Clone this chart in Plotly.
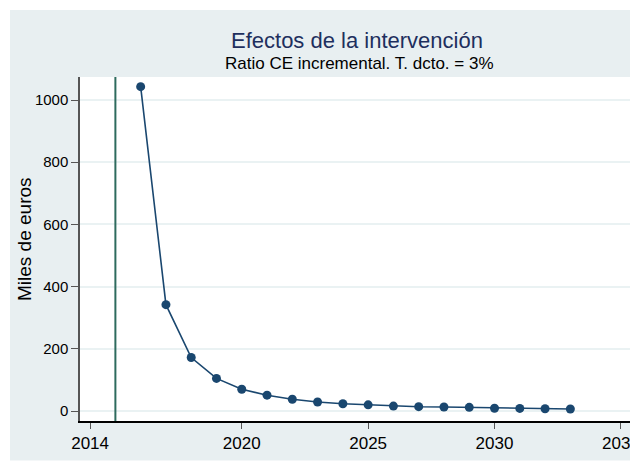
import plotly.graph_objects as go

years = list(range(2016, 2034))
ratio = [1043, 342, 172, 105, 70, 51, 38, 29, 23.5, 20, 16, 14, 13, 12, 9, 8.5, 7.5, 6.5]
intervention_year = 2015
x_tickvals = [2014, 2020, 2025, 2030, 2035]
y_tickvals = [0, 200, 400, 600, 800, 1000]

title = "Efectos de la intervención"
subtitle = "Ratio CE incremental. T. dcto. = 3%"
ytitle = "Miles de euros"

W, H = 630, 462
L, R, T, B = 80, 0, 77, 41
pw, ph = W - L - R, H - T - B

def px_x(p):
    return (p - L) / pw

def px_y(p):
    return (H - B - p) / ph

bg = "#e8eff1"
font = "Liberation Sans, Arial, sans-serif"

fig = go.Figure()
fig.add_trace(go.Scatter(
    x=years, y=ratio, mode="lines+markers",
    line=dict(color="#1a476f", width=1.6),
    marker=dict(color="#1a476f", size=9),
    showlegend=False, hoverinfo="x+y", cliponaxis=False,
))

fig.add_shape(type="line", xref="x", yref="paper", x0=intervention_year, x1=intervention_year,
              y0=0, y1=1, line=dict(color="#2e6b5e", width=2))

# white outer border strips
fig.add_shape(type="rect", xref="paper", yref="paper", x0=px_x(0), x1=px_x(W),
              y0=px_y(10), y1=px_y(0), fillcolor="white", line_width=0, layer="below")
fig.add_shape(type="rect", xref="paper", yref="paper", x0=px_x(0), x1=px_x(10),
              y0=px_y(H), y1=px_y(0), fillcolor="white", line_width=0, layer="below")
fig.add_shape(type="rect", xref="paper", yref="paper", x0=px_x(0), x1=px_x(W),
              y0=px_y(H), y1=px_y(460.5), fillcolor="white", line_width=0, layer="below")

fig.add_annotation(text=title, xref="paper", yref="paper", x=px_x(357), y=px_y(40),
                   showarrow=False, font=dict(family=font, size=22, color="#1e2f5e"),
                   xanchor="center", yanchor="middle")
fig.add_annotation(text=subtitle, xref="paper", yref="paper", x=px_x(360), y=px_y(64),
                   showarrow=False, font=dict(family=font, size=17, color="black"),
                   xanchor="center", yanchor="middle")
fig.add_annotation(text=ytitle, xref="paper", yref="paper", x=px_x(25), y=px_y(239),
                   showarrow=False, textangle=-90, font=dict(family=font, size=19, color="black"),
                   xanchor="center", yanchor="middle")

fig.update_layout(
    width=W, height=H,
    margin=dict(l=L, r=R, t=T, b=B, pad=0),
    paper_bgcolor=bg, plot_bgcolor="white",
    font=dict(family=font, size=15, color="black"),
    xaxis=dict(range=[2013.6, 2035.36], tickvals=x_tickvals, ticktext=[str(v) for v in x_tickvals],
               showgrid=False, zeroline=False, showline=True, linecolor="black", linewidth=1.5,
               ticks="outside", ticklen=6, tickcolor="#555555", tickwidth=1,
               tickfont=dict(size=17), automargin=False, ticklabeloverflow="allow"),
    yaxis=dict(range=[-32, 1074], tickvals=y_tickvals, showgrid=True, gridcolor="#eaf2f3",
               gridwidth=1.5, zeroline=False, showline=True, linecolor="#555555", linewidth=1.5,
               ticks="outside", ticklen=7, tickcolor="#555555", tickwidth=1,
               tickfont=dict(size=15), automargin=False),
)

fig.write_html("out.html", config={"displayModeBar": False},
               post_script="document.body.style.margin='0';document.body.style.overflow='hidden';")
